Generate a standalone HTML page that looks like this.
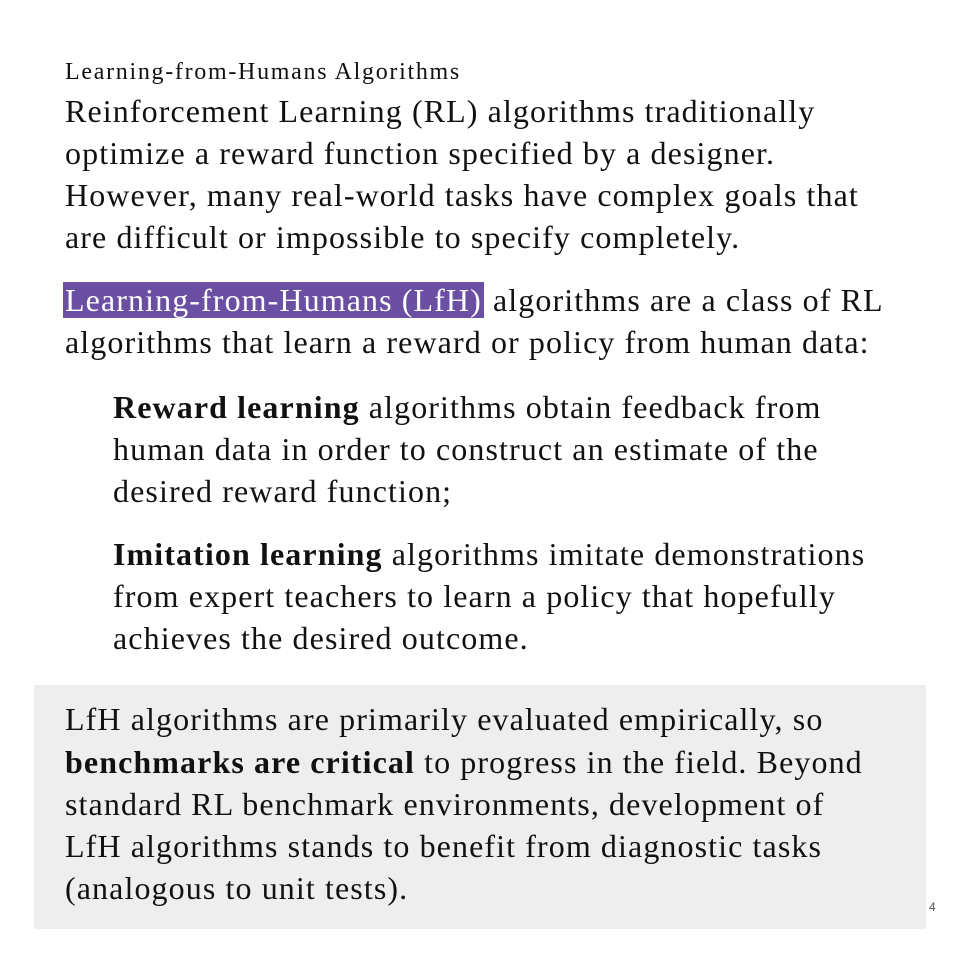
<!DOCTYPE html>
<html><head><meta charset="utf-8"><style>
body{margin:0;width:960px;height:960px;background:#fff;position:relative;overflow:hidden;font-family:"Liberation Serif",serif;color:#111}
.l{position:absolute;white-space:nowrap;font-size:32px;letter-spacing:1.1px;line-height:42px}
.t{position:absolute;left:65px;top:59px;font-size:24px;letter-spacing:1.7px;white-space:nowrap}
.hl{background:#6a4fa3;color:#fff;padding:0 2px}
#box{position:absolute;left:34px;top:685px;width:892px;height:244px;background:#eeeeee}
</style></head><body>
<div class="t">Learning-from-Humans Algorithms</div>
<div>
<div class="l" style="left:65px;top:90px">Reinforcement Learning (RL) algorithms traditionally</div>
<div class="l" style="left:65px;top:132px">optimize a reward function specified by a designer.</div>
<div class="l" style="left:65px;top:174px">However, many real-world tasks have complex goals that</div>
<div class="l" style="left:65px;top:216px">are difficult or impossible to specify completely.</div>
</div>
<div>
<div class="l" style="left:63px;top:279px"><span class="hl">Learning-from-Humans (LfH)</span> algorithms are a class of RL</div>
<div class="l" style="left:65px;top:321px">algorithms that learn a reward or policy from human data:</div>
</div>
<div>
<div class="l" style="left:113px;top:386px"><b>Reward learning</b> algorithms obtain feedback from</div>
<div class="l" style="left:113px;top:428px">human data in order to construct an estimate of the</div>
<div class="l" style="left:113px;top:470px">desired reward function;</div>
</div>
<div>
<div class="l" style="left:113px;top:533px"><b>Imitation learning</b> algorithms imitate demonstrations</div>
<div class="l" style="left:113px;top:575px">from expert teachers to learn a policy that hopefully</div>
<div class="l" style="left:113px;top:617px">achieves the desired outcome.</div>
</div>
<div id="box"></div>
<div>
<div class="l" style="left:65px;top:698px">LfH algorithms are primarily evaluated empirically, so</div>
<div class="l" style="left:65px;top:741px"><b>benchmarks are critical</b> to progress in the field. Beyond</div>
<div class="l" style="left:65px;top:783px">standard RL benchmark environments, development of</div>
<div class="l" style="left:65px;top:825px">LfH algorithms stands to benefit from diagnostic tasks</div>
<div class="l" style="left:65px;top:867px">(analogous to unit tests).</div>
</div>
<div style="position:absolute;left:929px;top:900px;font-size:12px;color:#555;font-family:'Liberation Sans',sans-serif">4</div>
</body></html>
